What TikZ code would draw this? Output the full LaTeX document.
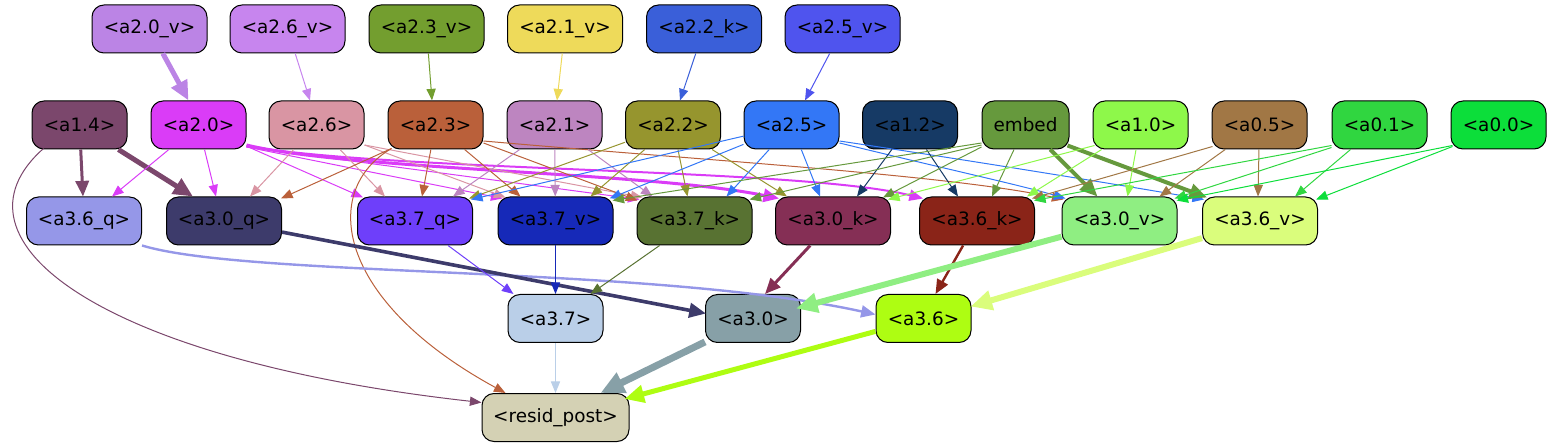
\documentclass[tikz,border=0pt]{standalone}
\usepackage{fontspec}
\newfontfamily\dv{DejaVu Sans}
\usetikzlibrary{arrows.meta,calc}
\definecolor{c20v}{HTML}{BB84E5}
\definecolor{c26v}{HTML}{C785EE}
\definecolor{c23v}{HTML}{739E2F}
\definecolor{c21v}{HTML}{EEDA5A}
\definecolor{c22k}{HTML}{3A5FD9}
\definecolor{c25v}{HTML}{4F54EE}
\definecolor{c14}{HTML}{7B476C}
\definecolor{c20}{HTML}{DA3CF7}
\definecolor{c26}{HTML}{D995A3}
\definecolor{c23}{HTML}{BA603A}
\definecolor{c21}{HTML}{BD85C0}
\definecolor{c22}{HTML}{96952E}
\definecolor{c25}{HTML}{3377F6}
\definecolor{c12}{HTML}{163A65}
\definecolor{cemb}{HTML}{66993D}
\definecolor{c10}{HTML}{8EF84A}
\definecolor{c05}{HTML}{A17745}
\definecolor{c01}{HTML}{30D640}
\definecolor{c00}{HTML}{0CDE3A}
\definecolor{c36q}{HTML}{9597E8}
\definecolor{c30q}{HTML}{3D3B6B}
\definecolor{c37q}{HTML}{6E3FFA}
\definecolor{c37v}{HTML}{1629B8}
\definecolor{c37k}{HTML}{587232}
\definecolor{c30k}{HTML}{852F55}
\definecolor{c36k}{HTML}{8A2418}
\definecolor{c30v}{HTML}{8FEE82}
\definecolor{c36v}{HTML}{DAFD7C}
\definecolor{c37}{HTML}{BACFE8}
\definecolor{c30}{HTML}{87A0A7}
\definecolor{c36}{HTML}{AEFD12}
\definecolor{cres}{HTML}{D4D1B4}
\begin{document}
\begin{tikzpicture}[x=0.5pt,y=-0.5pt,
  box/.style={draw=black, line width=0.5pt, fill=#1, rounded corners=6pt,
    minimum height=24pt, minimum width=47.5pt, inner sep=0pt,
    font=\dv\fontsize{9.2}{11}\selectfont},
  wide/.style={minimum width=57.5pt},
  e/.style={draw=#1, line width=0.5pt, -{Triangle[length=4.8pt 2,width=3.6pt 2,fill=#1]}}]
\useasboundingbox (0,0) rectangle (1548,443);
% top row
\node[box=c20v,wide] (a20v) at (149.5,29) {<a2.0\_v>};
\node[box=c26v,wide] (a26v) at (287.5,29) {<a2.6\_v>};
\node[box=c23v,wide] (a23v) at (426.5,29) {<a2.3\_v>};
\node[box=c21v,wide] (a21v) at (565,29) {<a2.1\_v>};
\node[box=c22k,wide] (a22k) at (704,29) {<a2.2\_k>};
\node[box=c25v,wide] (a25v) at (842.5,29) {<a2.5\_v>};
% second row
\node[box=c14] (a14) at (79.5,125) {<a1.4>};
\node[box=c20] (a20) at (198.5,125) {<a2.0>};
\node[box=c26] (a26) at (316.5,125) {<a2.6>};
\node[box=c23] (a23) at (435.5,125) {<a2.3>};
\node[box=c21] (a21) at (554.5,125) {<a2.1>};
\node[box=c22] (a22) at (673,125) {<a2.2>};
\node[box=c25] (a25) at (791.5,125) {<a2.5>};
\node[box=c12] (a12) at (910,125) {<a1.2>};
\node[box=cemb,minimum width=43.5pt] (emb) at (1025.5,125) {embed};
\node[box=c10] (a10) at (1140.5,125) {<a1.0>};
\node[box=c05] (a05) at (1259.5,125) {<a0.5>};
\node[box=c01] (a01) at (1379.5,125) {<a0.1>};
\node[box=c00] (a00) at (1498.5,125) {<a0.0>};
% third row
\node[box=c36q,wide] (a36q) at (84,221) {<a3.6\_q>};
\node[box=c30q,wide] (a30q) at (224,221) {<a3.0\_q>};
\node[box=c37q,wide] (a37q) at (415,221) {<a3.7\_q>};
\node[box=c37v,wide] (a37v) at (555.5,221) {<a3.7\_v>};
\node[box=c37k,wide] (a37k) at (694.5,221) {<a3.7\_k>};
\node[box=c30k,wide] (a30k) at (833,221) {<a3.0\_k>};
\node[box=c36k,wide] (a36k) at (977,221) {<a3.6\_k>};
\node[box=c30v,wide] (a30v) at (1119.5,221) {<a3.0\_v>};
\node[box=c36v,wide] (a36v) at (1260,221) {<a3.6\_v>};
% fourth row
\node[box=c37] (a37) at (555.5,318.5) {<a3.7>};
\node[box=c30] (a30) at (753,318.5) {<a3.0>};
\node[box=c36] (a36) at (923.5,318.5) {<a3.6>};
% output
\node[box=cres,minimum width=73.5pt] (res) at (555.5,417.5) {<resid\_post>};

% top -> second row
\draw[e=c20v,line width=2.5pt] (a20v) -- ($(a20.north)+(-10,0)$);
\draw[e=c26v] (a26v) -- ($(a26.north)+(-6.5,0)$);
\draw[e=c23v] (a23v) -- ($(a23.north)+(-3.5,0)$);
\draw[e=c21v] (a21v) -- ($(a21.north)+(2.5,0)$);
\draw[e=c22k] (a22k) -- ($(a22.north)+(7,0)$);
\draw[e=c25v] (a25v) -- ($(a25.north)+(13.5,0)$);

% a1.4
\draw[e=c14,line width=1.5pt] (a14) -- ($(a36q.north)+(-1,0)$);
\draw[e=c14,line width=2.5pt] (a14) -- ($(a30q.north)+(-31,0)$);
\draw[e=c14] ($(a14.south west)+(12,-1)$) .. controls (-60,240) and (100,360) .. ($(res.west)+(0,-15)$);
% a2.0
\draw[e=c20] (a20) -- ($(a36q.north)+(28,0)$);
\draw[e=c20] (a20) -- ($(a30q.north)+(-8,0)$);
\draw[e=c20] (a20) -- ($(a37q.north)+(-52,1)$);
\draw[e=c20] ($(a20.east)+(0,22)$) -- ($(a37v.north)+(-53,2)$);
\draw[e=c20] ($(a20.east)+(0,22)$) -- ($(a37k.north)+(-55,3)$);
\draw[e=c20,line width=1.5pt] ($(a20.east)+(0,20)$) .. controls (350,170) and (650,172) .. ($(a30k.north)+(-54,2)$);
\draw[e=c20,line width=1pt] ($(a20.east)+(0,21)$) .. controls (400,172) and (800,168) .. ($(a36k.north)+(-54,2)$);
% a2.6
\draw[e=c26] (a26) -- ($(a30q.north)+(26,0)$);
\draw[e=c26] (a26) -- ($(a37q.north)+(-30,0)$);
\draw[e=c26] ($(a26.east)+(0,20)$) -- ($(a37v.north)+(-50,1)$);
\draw[e=c26] ($(a26.east)+(0,20)$) -- ($(a37k.north)+(-52,1)$);
% a2.3
\draw[e=c23] ($(a23.south west)+(4,-1)$) -- ($(a30q.north)+(57,2)$);
\draw[e=c23] (a23) -- ($(a37q.north)+(7,0)$);
\draw[e=c23] (a23) -- ($(a37v.north)+(-35,0)$);
\draw[e=c23] ($(a23.east)+(0,18)$) -- ($(a37k.north)+(-57,4)$);
\draw[e=c23] ($(a23.east)+(0,16)$) .. controls (700,160) and (950,175) .. ($(a30v.north)+(-56,3)$);
\draw[e=c23] ($(a23.south west)+(4,-1)$) .. controls (320,190) and (335,300) .. ($(res.north)+(-50,0)$);
% a2.1
\draw[e=c21] (a21) -- ($(a37q.north)+(38,0)$);
\draw[e=c21] (a21) -- (a37v);
\draw[e=c21] (a21) -- ($(a37k.north)+(-42,0)$);
% a2.2
\draw[e=c22] (a22) -- ($(a37q.north)+(54,2)$);
\draw[e=c22] (a22) -- ($(a37v.north)+(35,0)$);
\draw[e=c22] (a22) -- ($(a37k.north)+(-7,0)$);
\draw[e=c22] (a22) -- ($(a30k.north)+(-46,0)$);
% a2.5
\draw[e=c25] (a25) -- ($(a37q.north)+(56,3)$);
\draw[e=c25] (a25) -- ($(a37v.north)+(54,2)$);
\draw[e=c25] (a25) -- ($(a37k.north)+(32,0)$);
\draw[e=c25] (a25) -- ($(a30k.north)+(-13,0)$);
\draw[e=c25] ($(a25.east)+(0,18)$) .. controls (950,170) and (1020,185) .. ($(a30v.north)+(-54,2)$);
\draw[e=c25] ($(a25.east)+(0,16)$) .. controls (1000,165) and (1150,190) .. ($(a36v.north)+(-56,3)$);
% a1.2
\draw[e=c12] (a12) -- ($(a30k.north)+(24,0)$);
\draw[e=c12] (a12) -- ($(a36k.north)+(-19,0)$);
% embed
\draw[e=cemb] ($(emb.west)+(0,18)$) -- ($(a37v.north)+(57,4)$);
\draw[e=cemb] ($(emb.west)+(0,20)$) -- ($(a37k.north)+(55,3)$);
\draw[e=cemb] ($(emb.west)+(0,22)$) -- ($(a30k.north)+(50,1)$);
\draw[e=cemb] (emb) -- ($(a36k.north)+(15,0)$);
\draw[e=cemb,line width=2pt] (emb) -- ($(a30v.north)+(-22,0)$);
\draw[e=cemb,line width=2pt] ($(emb.south east)+(-2,-4)$) -- ($(a36v.north)+(-53,1)$);
% a1.0
\draw[e=c10] ($(a10.south west)+(2,-4)$) -- ($(a30k.north)+(55,3)$);
\draw[e=c10] (a10) -- ($(a36k.north)+(50,0)$);
\draw[e=c10] (a10) -- ($(a30v.north)+(8,0)$);
% a0.5
\draw[e=c05] ($(a05.south west)+(1,-3)$) -- ($(a36k.north)+(55,2)$);
\draw[e=c05] (a05) -- ($(a30v.north)+(40,0)$);
\draw[e=c05] (a05) -- ($(a36v.north)+(-2,0)$);
% a0.1
\draw[e=c01] ($(a01.south west)+(0,-4)$) -- ($(a36k.north)+(57,4)$);
\draw[e=c01] ($(a01.south west)+(0,-2)$) -- ($(a30v.north)+(55,2)$);
\draw[e=c01] (a01) -- ($(a36v.north)+(35,0)$);
% a0.0
\draw[e=c00] ($(a00.south west)+(2,-4)$) -- ($(a30v.north)+(57,4)$);
\draw[e=c00] ($(a00.south west)+(2,-3)$) -- ($(a36v.north)+(56,3)$);

% third -> fourth
\draw[e=c36q,line width=1.2pt] (a36q.south east) .. controls (250,278) and (650,265) .. ($(a36.west)+(0,-4)$);
\draw[e=c30q,line width=1.8pt] (a30q) -- ($(a30.west)+(1,-5)$);
\draw[e=c37q] (a37q) -- ($(a37.north)+(-42,0)$);
\draw[e=c37v] (a37v) -- (a37);
\draw[e=c37k] (a37k) -- ($(a37.north)+(35,0)$);
\draw[e=c30k,line width=1.5pt] (a30k) -- ($(a30.north)+(12,0)$);
\draw[e=c36k,line width=1.2pt] (a36k) -- ($(a36.north)+(12,0)$);
\draw[e=c30v,line width=3pt] (a30v) -- ($(a30.east)+(-5,-10)$);
\draw[e=c36v,line width=3pt] (a36v) -- ($(a36.east)+(-1,-12)$);
% fourth -> output
\draw[e=c37] (a37) -- (res);
\draw[e=c30,line width=3.5pt] (a30) -- ($(res.north)+(45,0)$);
\draw[e=c36,line width=2.5pt] (a36) -- ($(res.north east)+(-5,6)$);
\end{tikzpicture}
\end{document}
